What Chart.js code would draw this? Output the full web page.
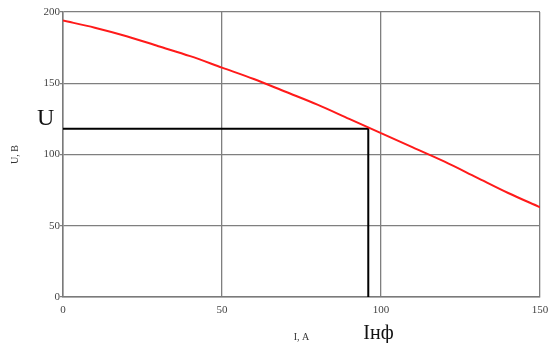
<!DOCTYPE html>
<html>
<head>
<meta charset="utf-8">
<script src="https://cdn.jsdelivr.net/npm/chart.js@4"></script>
<style>
  html, body { margin: 0; padding: 0; background: #fff; }
  #wrap { width: 552px; height: 343px; }
</style>
</head>
<body>
<div id="wrap"><canvas id="chart" width="552" height="343"></canvas></div>
<script>
const currentI = [0, 10, 20, 30, 40, 50, 60, 70, 80, 90, 100, 110, 120, 130, 140, 150];
const voltageU = [194, 189, 183, 176, 169, 161, 153, 144, 135, 125, 115, 105, 95, 84, 73, 63];
const pointI = 96;
const pointU = 118;
const xTicks = [0, 50, 100, 150];
const yTicks = [0, 50, 100, 150, 200];

const serif = "'Liberation Serif', 'DejaVu Serif', serif";

const markLabels = {
  id: "markLabels",
  afterDraw(chart) {
    const ctx = chart.ctx;
    const x = chart.scales.x;
    const y = chart.scales.y;
    ctx.save();
    ctx.fillStyle = "#111";
    ctx.textBaseline = "alphabetic";
    ctx.font = "24px " + serif;
    ctx.textAlign = "left";
    ctx.fillText("U", 37, y.getPixelForValue(pointU) - 4);
    ctx.font = "20px " + serif;
    ctx.fillText("Iнф", x.getPixelForValue(pointI) - 5, 339);
    ctx.restore();
  }
};

new Chart(document.getElementById("chart"), {
  type: "line",
  data: {
    datasets: [
      {
        label: "U(I)",
        data: currentI.map((v, i) => ({ x: v, y: voltageU[i] })),
        borderColor: "#ff1a1a",
        borderWidth: 2,
        pointRadius: 0,
        cubicInterpolationMode: "monotone"
      },
      {
        label: "point",
        data: [{ x: 0, y: pointU }, { x: pointI, y: pointU }, { x: pointI, y: 0 }],
        borderColor: "#000",
        borderWidth: 2,
        pointRadius: 0,
        tension: 0
      }
    ]
  },
  options: {
    responsive: false,
    animation: false,
    layout: { padding: { left: 0, top: 12, right: 0, bottom: 0 } },
    scales: {
      x: {
        type: "linear",
        min: 0,
        max: 150,
        afterBuildTicks: s => { s.ticks = xTicks.map(v => ({ value: v })); },
        afterFit: s => { s.height = 46; s.paddingRight = 12; },
        border: { display: true, color: "#7a7a7a", width: 1.5 },
        grid: { color: "#7f7f7f", lineWidth: 1.3, drawTicks: false },
        ticks: { padding: 7, color: "#444", font: { family: serif, size: 11 }, maxRotation: 0 },
        title: { display: true, text: "I, A", color: "#333", font: { family: serif, size: 10 }, padding: { top: 0, bottom: 0 } }
      },
      y: {
        min: 0,
        max: 200,
        afterBuildTicks: s => { s.ticks = yTicks.map(v => ({ value: v })); },
        afterFit: s => { s.width = 63; },
        border: { display: true, color: "#7a7a7a", width: 1.5 },
        grid: { color: "#7f7f7f", lineWidth: 1.3, drawTicks: true, tickLength: 3 },
        ticks: { padding: 0, color: "#444", font: { family: serif, size: 11 } },
        title: { display: true, text: "U, B", color: "#333", font: { family: serif, size: 10 }, padding: { top: 9, bottom: 0 } }
      }
    },
    plugins: {
      legend: { display: false },
      tooltip: { enabled: false }
    }
  },
  plugins: [markLabels]
});
</script>
</body>
</html>
